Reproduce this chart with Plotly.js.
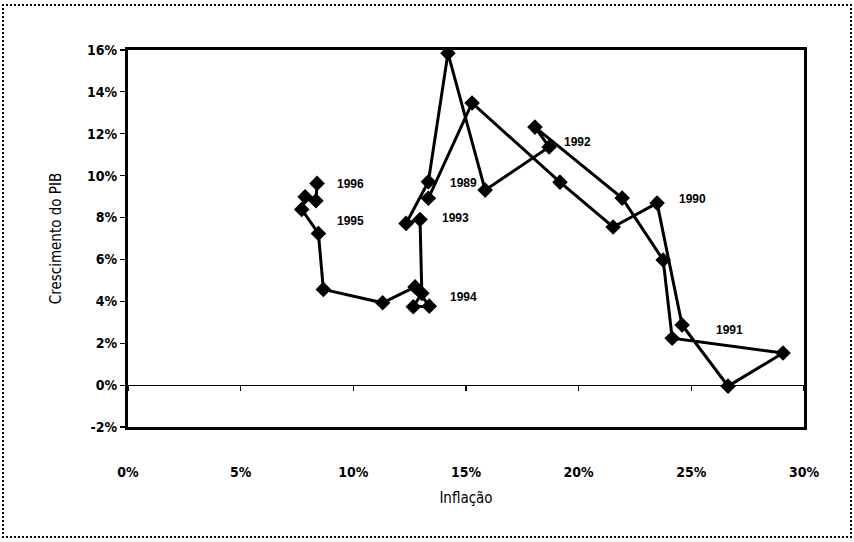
<!DOCTYPE html>
<html>
<head>
<meta charset="utf-8">
<script src="https://cdn.plot.ly/plotly-3.0.1.min.js"></script>
<style>
  html, body { margin: 0; padding: 0; background: #fff; }
  #wrap { position: relative; width: 854px; height: 542px; }
  #chart { width: 854px; height: 542px; }
  #frame { position: absolute; left: 2px; top: 4px; width: 846px; height: 530px;
           border: 2px dotted #000; pointer-events: none; }
</style>
</head>
<body>
<div id="wrap"><div id="chart"></div><div id="frame"></div></div>
<script>
// Quarterly observations, 1989 Q1 .. 1996 Q1 (values in %)
const quarters = [
  '1989T1','1989T2','1989T3','1989T4',
  '1990T1','1990T2','1990T3','1990T4',
  '1991T1','1991T2','1991T3','1991T4',
  '1992T1','1992T2','1992T3','1992T4',
  '1993T1','1993T2','1993T3','1993T4',
  '1994T1','1994T2','1994T3','1994T4',
  '1995T1','1995T2','1995T3','1995T4',
  '1996T1'
];
const inflation = [
  13.33, 15.27, 19.17, 21.53,
  23.48, 24.59, 26.63, 29.07,
  24.15, 23.75, 21.93, 18.06,
  18.69, 15.85, 14.20, 13.33,
  12.34, 12.96, 13.04, 12.66,
  13.37, 12.74, 11.30, 8.67,
  8.45, 7.71, 7.86, 8.34,
  8.39
];
const growth = [
  8.92, 13.47, 9.69, 7.55,
  8.69, 2.87, -0.05, 1.53,
  2.24, 5.97, 8.93, 12.32,
  11.37, 9.31, 15.85, 9.71,
  7.72, 7.91, 4.38, 3.74,
  3.77, 4.69, 3.93, 4.57,
  7.24, 8.39, 8.99, 8.80,
  9.63
];
// Year labels and where their text sits (data units)
const yearLabels = ['1989','1990','1991','1992','1993','1994','1995','1996'];
const labelInfl   = [14.2, 24.37, 26.0, 19.26, 13.85, 14.2, 9.19, 9.19];
const labelGrowth = [9.65, 8.88, 2.63, 11.6, 7.97, 4.2, 7.83, 9.6];
const xTickVals = [0, 5, 10, 15, 20, 25, 30];
const yTickVals = [-2, 0, 2, 4, 6, 8, 10, 12, 14, 16];

const narrow = '"Liberation Sans Narrow", "DejaVu Sans Condensed", "Liberation Sans", sans-serif';
const wide = '"Liberation Sans", Arial, sans-serif';

const trace = {
  type: 'scatter', mode: 'lines+markers',
  x: inflation, y: growth, text: quarters,
  line: { color: '#000', width: 3 },
  marker: { symbol: 'diamond', size: 12, color: '#000' },
  hoverinfo: 'text+x+y', showlegend: false
};
// invisible companion trace so that the axis drawn along y = 0 is rendered
const axisTrace = {
  type: 'scatter', mode: 'none', x: inflation, y: growth,
  xaxis: 'x2', yaxis: 'y', hoverinfo: 'skip', showlegend: false
};

const annotations = yearLabels.map((t, i) => ({
  x: labelInfl[i], y: labelGrowth[i], xref: 'x', yref: 'y',
  text: '<b>' + t + '</b>', showarrow: false, xanchor: 'left', yanchor: 'middle',
  font: { family: wide, size: 12, color: '#000' }
}));

const layout = {
  width: 854, height: 542,
  margin: { l: 128, r: 50, t: 50, b: 115 },
  paper_bgcolor: '#fff', plot_bgcolor: '#fff',
  showlegend: false,
  xaxis: {
    range: [0, 30], tickvals: xTickVals, ticktext: xTickVals.map(v => '<b>' + v + '%</b>'),
    showgrid: false, zeroline: false,
    showline: true, linecolor: '#000', linewidth: 3, mirror: true,
    ticks: '', ticklabelstandoff: 30,
    tickfont: { family: narrow, size: 14, color: '#000' },
    title: { text: 'Inflação', font: { family: narrow, size: 15, color: '#000' }, standoff: 14 }
  },
  xaxis2: {
    range: [0, 30], overlaying: 'x', anchor: 'free', position: 2 / 18,
    tick0: 0, dtick: 5, ticks: 'outside', ticklen: 5, tickwidth: 1.2, tickcolor: '#000',
    showticklabels: false, showgrid: false, zeroline: false,
    showline: true, linecolor: '#000', linewidth: 1.2
  },
  yaxis: {
    range: [-2, 16], tickvals: yTickVals, ticktext: yTickVals.map(v => '<b>' + v + '%</b>'),
    showgrid: false, zeroline: true, zerolinecolor: '#000', zerolinewidth: 1.2,
    showline: true, linecolor: '#000', linewidth: 3, mirror: true,
    ticks: 'outside', ticklen: 5, tickwidth: 1.2, tickcolor: '#000',
    tickfont: { family: narrow, size: 14, color: '#000' },
    title: { text: 'Crescimento do PIB', font: { family: narrow, size: 15, color: '#000' }, standoff: 22 }
  },
  annotations: annotations
};

Plotly.newPlot('chart', [axisTrace, trace], layout, { staticPlot: true });
</script>
</body>
</html>
